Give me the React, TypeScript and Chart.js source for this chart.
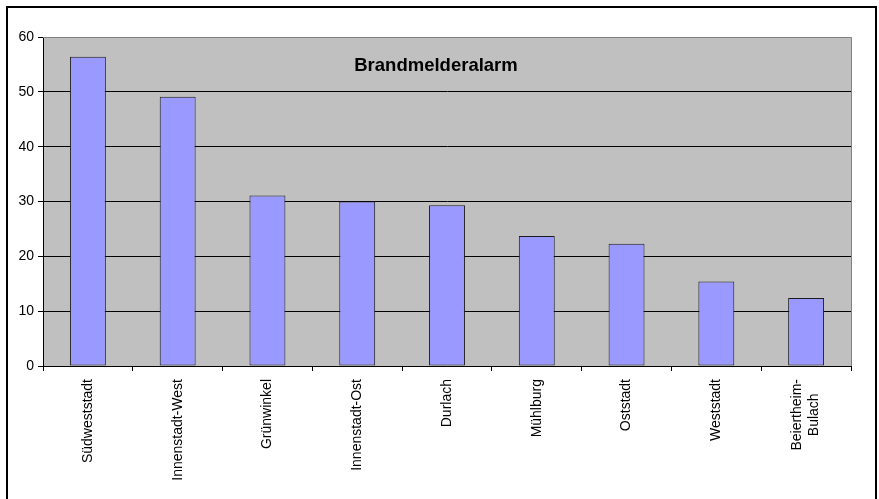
import React, { useEffect, useRef } from "react";
import { Chart, registerables } from "chart.js";

Chart.register(...registerables);

const categories = [
  "Südweststadt",
  "Innenstadt-West",
  "Grünwinkel",
  "Innenstadt-Ost",
  "Durlach",
  "Mühlburg",
  "Oststadt",
  "Weststadt",
  "Beiertheim-\nBulach",
];
const values = [56.4, 49.1, 31.1, 30.0, 29.3, 23.7, 22.3, 15.4, 12.4];
const yMin = 0;
const yMax = 60;
const yStep = 10;
const chartTitle = "Brandmelderalarm";

const FONT = '"Liberation Sans", Arial, sans-serif';

export default function App() {
  const ref = useRef<HTMLCanvasElement | null>(null);

  useEffect(() => {
    if (!ref.current) return;

    const decor = {
      id: "decor",
      beforeDraw(chart: any) {
        const { ctx, chartArea: a } = chart;
        ctx.save();
        ctx.fillStyle = "#ffffff";
        ctx.fillRect(0, 0, chart.width, chart.height);
        ctx.fillStyle = "#C0C0C0";
        ctx.fillRect(a.left, a.top, a.right - a.left, a.bottom - a.top);
        ctx.restore();
      },
      afterDraw(chart: any) {
        const { ctx, chartArea: a } = chart;
        ctx.save();
        // plot area border (top and right) in gray
        ctx.strokeStyle = "#808080";
        ctx.lineWidth = 1;
        ctx.beginPath();
        ctx.moveTo(a.left, Math.round(a.top) + 0.5);
        ctx.lineTo(Math.round(a.right) + 0.5, Math.round(a.top) + 0.5);
        ctx.lineTo(Math.round(a.right) + 0.5, a.bottom);
        ctx.stroke();

        // title inside plot
        ctx.fillStyle = "#000";
        ctx.font = `bold 18.5px ${FONT}`;
        ctx.textAlign = "center";
        ctx.textBaseline = "alphabetic";
        ctx.fillText(chartTitle, 436, 71);

        // x labels (rotated, centered multi-line)
        const xs = chart.scales.x;
        ctx.font = `14px ${FONT}`;
        ctx.textAlign = "center";
        ctx.textBaseline = "middle";
        const lineGap = 17;
        categories.forEach((lab, i) => {
          const lines = lab.split("\n");
          const cx = xs.getPixelForValue(i);
          const maxW = Math.max(...lines.map((l) => ctx.measureText(l).width));
          lines.forEach((line, j) => {
            const off = (j - (lines.length - 1) / 2) * lineGap;
            ctx.save();
            ctx.translate(cx + off, 379 + maxW / 2);
            ctx.rotate(-Math.PI / 2);
            ctx.fillText(line, 0, 0);
            ctx.restore();
          });
        });

        // outer frame
        ctx.strokeStyle = "#000";
        ctx.lineWidth = 2;
        ctx.strokeRect(7, 7, 869, 600);
        ctx.restore();
      },
    };

    const chart = new Chart(ref.current, {
      type: "bar",
      data: {
        labels: categories.map((c) => c.split("\n")),
        datasets: [
          {
            data: values,
            backgroundColor: "#9999FF",
            borderColor: "#1a1a1a",
            borderWidth: 1,
            borderSkipped: false,
            categoryPercentage: 1,
            barPercentage: 0.4,
          },
        ],
      },
      options: {
        responsive: false,
        animation: false,
        events: [],
        layout: { padding: { left: 0, top: 37, right: 28, bottom: 0 } },
        plugins: {
          legend: { display: false },
          tooltip: { enabled: false },
          title: { display: false },
        },
        scales: {
          x: {
            offset: true,
            grid: {
              display: true,
              offset: true,
              drawOnChartArea: false,
              drawTicks: true,
              tickLength: 5,
              color: "#000",
              tickColor: "#000",
            },
            border: { display: true, color: "#000", width: 1 },
            ticks: { display: false },
            afterFit(s: any) {
              s.height = 133;
            },
          },
          y: {
            min: yMin,
            max: yMax,
            grid: {
              color: (c: any) => (c.tick && c.tick.value === yMax ? "#808080" : "#000"),
              tickColor: "#000",
              tickLength: 5,
              lineWidth: 1,
            },
            border: { display: true, color: "#000", width: 1 },
            ticks: {
              stepSize: yStep,
              color: "#000",
              padding: 4,
              font: { size: 14, family: FONT },
            },
            afterFit(s: any) {
              s.width = 43;
            },
          },
        },
      },
      plugins: [decor],
    } as any);

    return () => chart.destroy();
  }, []);

  return (
    <div style={{ position: "fixed", left: 0, top: 0, width: 879, height: 499, background: "#fff" }}>
      <canvas ref={ref} width={879} height={499} style={{ display: "block", width: 879, height: 499 }} />
    </div>
  );
}
